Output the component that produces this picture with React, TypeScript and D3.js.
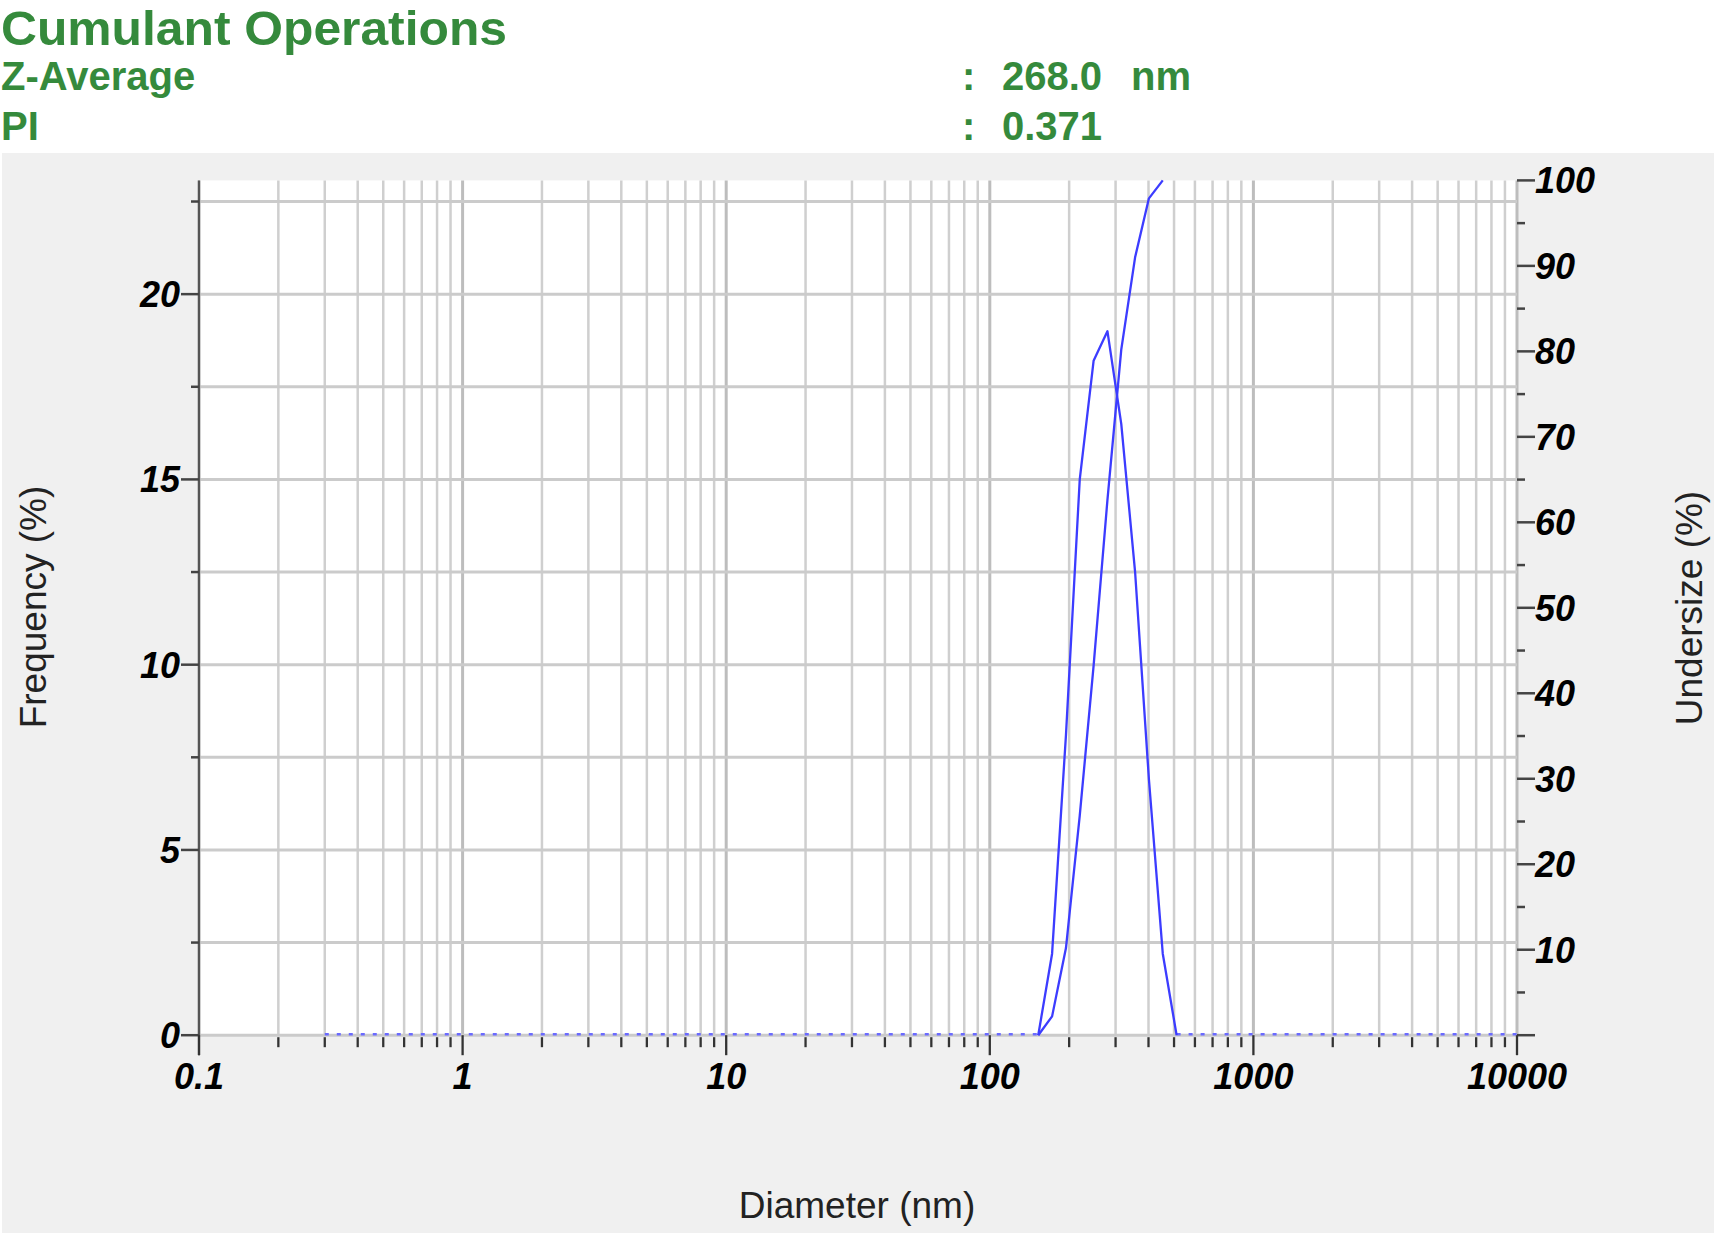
import React from "react";
import * as d3 from "d3";

// ---- data ----
const sizeBins = [152.7, 172.3, 194.5, 219.4, 247.6, 279.4, 315.3, 355.8, 401.5, 453.1, 511.3];
const frequency = [0, 2.2, 8.1, 15.0, 18.2, 19.0, 16.5, 12.5, 6.9, 2.2, 0];
const undersizeBins = [152.7, 172.3, 194.5, 219.4, 247.6, 279.4, 315.3, 355.8, 401.5, 453.1];
const undersize = [0, 2.2, 10.2, 25.7, 43.2, 62.6, 80.2, 91.0, 97.9, 100];
const zeroSegments: [number, number][] = [[0.3, 152.7], [511.3, 10000]];

const xTickLabels = ["0.1", "1", "10", "100", "1000", "10000"];
const xMajorValues = [0.1, 1, 10, 100, 1000, 10000];
const leftLabels = [0, 5, 10, 15, 20];
const rightLabels = [10, 20, 30, 40, 50, 60, 70, 80, 90, 100];

const titleText = "Cumulant Operations";
const headerRows = [
  { label: "Z-Average", value: "268.0", unit: "nm" },
  { label: "PI", value: "0.371", unit: "" },
];

const W = 1714;
const H = 1233;
const P = { left: 199, right: 1517, top: 180.4, bottom: 1035.2 };
const FONT = "'Liberation Sans', Arial, Helvetica, sans-serif";
const GREEN = "#358a3c";
const BLUE = "#3c3cff";

export default function App() {
  const x = d3.scaleLog().domain([0.1, 10000]).range([P.left, P.right]);
  const yL = d3.scaleLinear().domain([0, 23.07]).range([P.bottom, P.top]);
  const yR = d3.scaleLinear().domain([0, 100]).range([P.bottom, P.top]);

  const xTicks = x.ticks();
  const isMajor = (v: number) => xMajorValues.some((m) => Math.abs(v / m - 1) < 1e-6);
  const leftTicks = d3.range(0, 23, 2.5);
  const rightTicks = d3.range(0, 101, 5);

  const freqLine = d3
    .line<number>()
    .x((_, i) => x(sizeBins[i]))
    .y((d) => yL(d));
  const undLine = d3
    .line<number>()
    .x((_, i) => x(undersizeBins[i]))
    .y((d) => yR(d));

  const headerY = [90, 140];

  return (
    <svg
      width={W}
      height={H}
      style={{ position: "absolute", left: 0, top: 0, background: "#fff" }}
      fontFamily={FONT}
    >
      {/* header */}
      <text x={1} y={45} fill={GREEN} fontWeight="bold" fontSize={48} textLength={506} lengthAdjust="spacingAndGlyphs">
        {titleText}
      </text>
      {headerRows.map((r, i) => (
        <g key={r.label}>
          <text x={1} y={headerY[i]} fill={GREEN} fontWeight="bold" fontSize={40}>
            {r.label}
          </text>
          <text x={962} y={headerY[i]} fill={GREEN} fontWeight="bold" fontSize={40}>
            :
          </text>
          <text x={1002} y={headerY[i]} fill={GREEN} fontWeight="bold" fontSize={40}>
            {r.value}
          </text>
          {r.unit && (
            <text x={1131} y={headerY[i]} fill={GREEN} fontWeight="bold" fontSize={40}>
              {r.unit}
            </text>
          )}
        </g>
      ))}

      {/* chart background */}
      <rect x={2} y={153} width={W - 2} height={H - 153} fill="#f0f0f0" />
      <rect x={P.left} y={P.top} width={P.right - P.left} height={P.bottom - P.top} fill="#fff" />

      {/* vertical grid */}
      {xTicks.map((v, i) => (
        <line
          key={"vg" + i}
          x1={x(v)}
          x2={x(v)}
          y1={P.top}
          y2={P.bottom}
          stroke={isMajor(v) ? "#bdbdbd" : "#cfcfcf"}
          strokeWidth={isMajor(v) ? 3 : 2.5}
        />
      ))}
      {/* horizontal grid */}
      {leftTicks.map((v, i) => (
        <line
          key={"hg" + i}
          x1={P.left}
          x2={P.right}
          y1={yL(v)}
          y2={yL(v)}
          stroke="#cbcbcb"
          strokeWidth={3}
        />
      ))}

      {/* zero parts of the distribution (dotted) */}
      {zeroSegments.map((s, i) => (
        <line
          key={"z" + i}
          x1={x(s[0])}
          x2={x(s[1])}
          y1={yL(0) - 1}
          y2={yL(0) - 1}
          stroke="#6a6aff"
          strokeWidth={2.5}
          strokeDasharray="4 8"
        />
      ))}

      {/* data */}
      <path d={freqLine(frequency) || ""} fill="none" stroke={BLUE} strokeWidth={2.3} strokeLinejoin="round" />
      <path d={undLine(undersize) || ""} fill="none" stroke={BLUE} strokeWidth={2.3} strokeLinejoin="round" />

      {/* left axis */}
      <line x1={P.left} x2={P.left} y1={P.top} y2={P.bottom + 20} stroke="#555" strokeWidth={2.2} />
      {leftTicks.map((v, i) => {
        const major = leftLabels.includes(v);
        return (
          <line
            key={"lt" + i}
            x1={P.left - (major ? 18 : 8)}
            x2={P.left}
            y1={yL(v)}
            y2={yL(v)}
            stroke="#444"
            strokeWidth={2.5}
          />
        );
      })}
      {leftLabels.map((v) => (
        <text
          key={"ll" + v}
          x={P.left - 19}
          y={yL(v)}
          dy="0.36em"
          textAnchor="end"
          fontSize={36}
          fontWeight="bold"
          fontStyle="italic"
          fill="#000"
        >
          {v}
        </text>
      ))}

      {/* right axis */}
      {rightTicks.map((v, i) => {
        const major = v % 10 === 0;
        return (
          <line
            key={"rt" + i}
            x1={P.right}
            x2={P.right + (major ? 18 : 8)}
            y1={yR(v)}
            y2={yR(v)}
            stroke="#444"
            strokeWidth={2.5}
          />
        );
      })}
      {rightLabels.map((v) => (
        <text
          key={"rl" + v}
          x={P.right + 18}
          y={yR(v)}
          dy="0.36em"
          textAnchor="start"
          fontSize={36}
          fontWeight="bold"
          fontStyle="italic"
          fill="#000"
        >
          {v}
        </text>
      ))}

      {/* x axis ticks */}
      {xTicks.map((v, i) => {
        const major = isMajor(v);
        return (
          <line
            key={"xt" + i}
            x1={x(v)}
            x2={x(v)}
            y1={P.bottom + (major ? 0 : 2)}
            y2={P.bottom + (major ? 20 : 12)}
            stroke="#333"
            strokeWidth={2.3}
          />
        );
      })}
      {xMajorValues.map((v, i) => (
        <text
          key={"xl" + i}
          x={x(v)}
          y={1089}
          textAnchor="middle"
          fontSize={36}
          fontWeight="bold"
          fontStyle="italic"
          fill="#000"
        >
          {xTickLabels[i]}
        </text>
      ))}

      {/* axis titles */}
      <text
        transform={`translate(46,607) rotate(-90)`}
        textAnchor="middle"
        fontSize={37}
        fill="#222"
      >
        Frequency (%)
      </text>
      <text
        transform={`translate(1702,608) rotate(-90)`}
        textAnchor="middle"
        fontSize={37}
        fill="#222"
      >
        Undersize (%)
      </text>
      <text x={857} y={1218} textAnchor="middle" fontSize={37} fill="#222">
        Diameter (nm)
      </text>
    </svg>
  );
}
